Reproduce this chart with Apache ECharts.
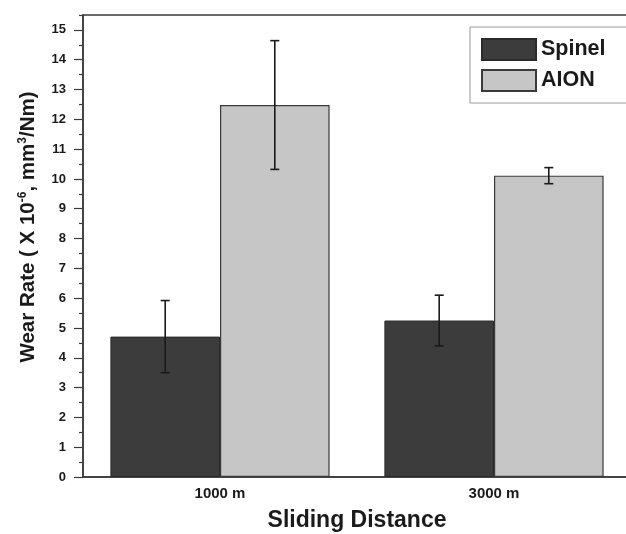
<!DOCTYPE html>
<html>
<head>
<meta charset="utf-8">
<script src="https://cdn.jsdelivr.net/npm/echarts@6/dist/echarts.min.js"></script>
<style>
	html, body { margin: 0; padding: 0; background: #fff; }
	#main { width: 626px; height: 534px; }
</style>
</head>
<body>
<div id="main"></div>
<script>
var categories = ['1000 m', '3000 m'];
var spinelValues = [4.71, 5.25];
var spinelErrors = [1.21, 0.85];
var aionValues = [12.48, 10.11];
var aionErrors = [2.16, 0.27];
var majorTicks = [0, 1, 2, 3, 4, 5, 6, 7, 8, 9, 10, 11, 12, 13, 14, 15];
var minorTicks = [];
for (var i = 0; i < majorTicks.length; i++) {
	minorTicks.push(majorTicks[i] + 0.5);
}

window.onload = function () {
	drawChart();
};

function errorSeries(name, values, errors, side) {
	var data = [];
	for (var i = 0; i < values.length; i++) {
		data.push([i, values[i] - errors[i], values[i] + errors[i]]);
	}
	return {
		name: name + ' err',
		type: 'custom',
		silent: true,
		z: 10,
		data: data,
		renderItem: function (params, api) {
			var band = api.size([1, 0])[0];
			var x = api.coord([api.value(0), 0])[0] + side * band * 0.2;
			var lo = api.coord([api.value(0), api.value(1)])[1];
			var hi = api.coord([api.value(0), api.value(2)])[1];
			var cap = 4.5;
			var style = { stroke: '#1a1a1a', lineWidth: 1.6 };
			return {
				type: 'group',
				children: [
					{ type: 'line', shape: { x1: x, y1: lo, x2: x, y2: hi }, style: style },
					{ type: 'line', shape: { x1: x - cap, y1: hi, x2: x + cap, y2: hi }, style: style },
					{ type: 'line', shape: { x1: x - cap, y1: lo, x2: x + cap, y2: lo }, style: style }
				]
			};
		}
	};
}

function drawChart() {
	var myChart = echarts.init(document.getElementById('main'));

	var option = {
		animation: false,
		textStyle: { fontFamily: 'Liberation Sans' },
		grid: {
			left: 83,
			right: -5,
			top: 15,
			bottom: 57,
			outerBoundsMode: 'none',
			containLabel: false,
			show: true,
			borderColor: '#3a3a3a',
			borderWidth: 1.5
		},
		legend: {
			orient: 'vertical',
			left: 470,
			top: 27,
			padding: [11, 40, 11, 11],
			itemWidth: 54,
			itemHeight: 21,
			itemGap: 8,
			borderColor: '#9a9a9a',
			borderWidth: 1,
			icon: 'rect',
			data: ['Spinel', 'AION'],
			textStyle: {
				fontFamily: 'Liberation Sans',
				fontWeight: 'bold',
				fontSize: 21.5,
				color: '#1a1a1a'
			}
		},
		xAxis: {
			type: 'category',
			data: categories,
			name: 'Sliding Distance',
			nameLocation: 'middle',
			nameGap: 32,
			nameTextStyle: {
				fontFamily: 'Liberation Sans',
				fontWeight: 'bold',
				fontSize: 23,
				color: '#1a1a1a'
			},
			axisLine: { lineStyle: { color: '#3a3a3a', width: 1.5 } },
			axisTick: { show: false },
			axisLabel: {
				margin: 9,
				fontFamily: 'Liberation Sans',
				fontWeight: 'bold',
				fontSize: 15,
				color: '#1a1a1a'
			}
		},
		yAxis: [{
			type: 'value',
			min: 0,
			max: 15.5,
			interval: 1,
			name: '{a|Wear Rate ( X 10}{s|-6}{a|, mm}{s|3}{a|/Nm)}',
			nameLocation: 'middle',
			nameRotate: 90,
			nameGap: 44,
			nameTextStyle: {
				padding: [0, 0, 0, 38],
				rich: {
					a: { fontFamily: 'Liberation Sans', fontWeight: 'bold', fontSize: 20.5, color: '#1a1a1a' },
					s: { fontFamily: 'Liberation Sans', fontWeight: 'bold', fontSize: 12, color: '#1a1a1a', verticalAlign: 'top', padding: [0, 0, 10, 0] }
				}
			},
			axisLine: { show: true, lineStyle: { color: '#3a3a3a', width: 1.5 } },
			axisTick: { show: true, length: 9, customValues: majorTicks, lineStyle: { color: '#3a3a3a', width: 1.2 } },
			splitLine: { show: false },
			axisLabel: {
				margin: 17,
				customValues: majorTicks,
				fontFamily: 'Liberation Sans',
				fontWeight: 'bold',
				fontSize: 13,
				color: '#1a1a1a'
			}
		}, {
			type: 'value',
			position: 'left',
			min: 0,
			max: 15.5,
			interval: 1,
			axisLine: { show: false },
			axisTick: { show: true, length: 4, customValues: minorTicks, lineStyle: { color: '#3a3a3a', width: 1.2 } },
			axisLabel: { show: false },
			splitLine: { show: false }
		}],
		series: [
			{
				name: 'Spinel',
				type: 'bar',
				data: spinelValues,
				barWidth: '40%',
				barGap: '0%',
				itemStyle: { color: '#3c3c3c', borderColor: '#2a2a2a', borderWidth: 1 }
			},
			{
				name: 'AION',
				type: 'bar',
				data: aionValues,
				barWidth: '40%',
				barGap: '0%',
				itemStyle: { color: '#c6c6c6', borderColor: '#3a3a3a', borderWidth: 1.2 }
			},
			errorSeries('Spinel', spinelValues, spinelErrors, -1),
			errorSeries('AION', aionValues, aionErrors, 1)
		]
	};

	myChart.setOption(option);
}
</script>
</body>
</html>
